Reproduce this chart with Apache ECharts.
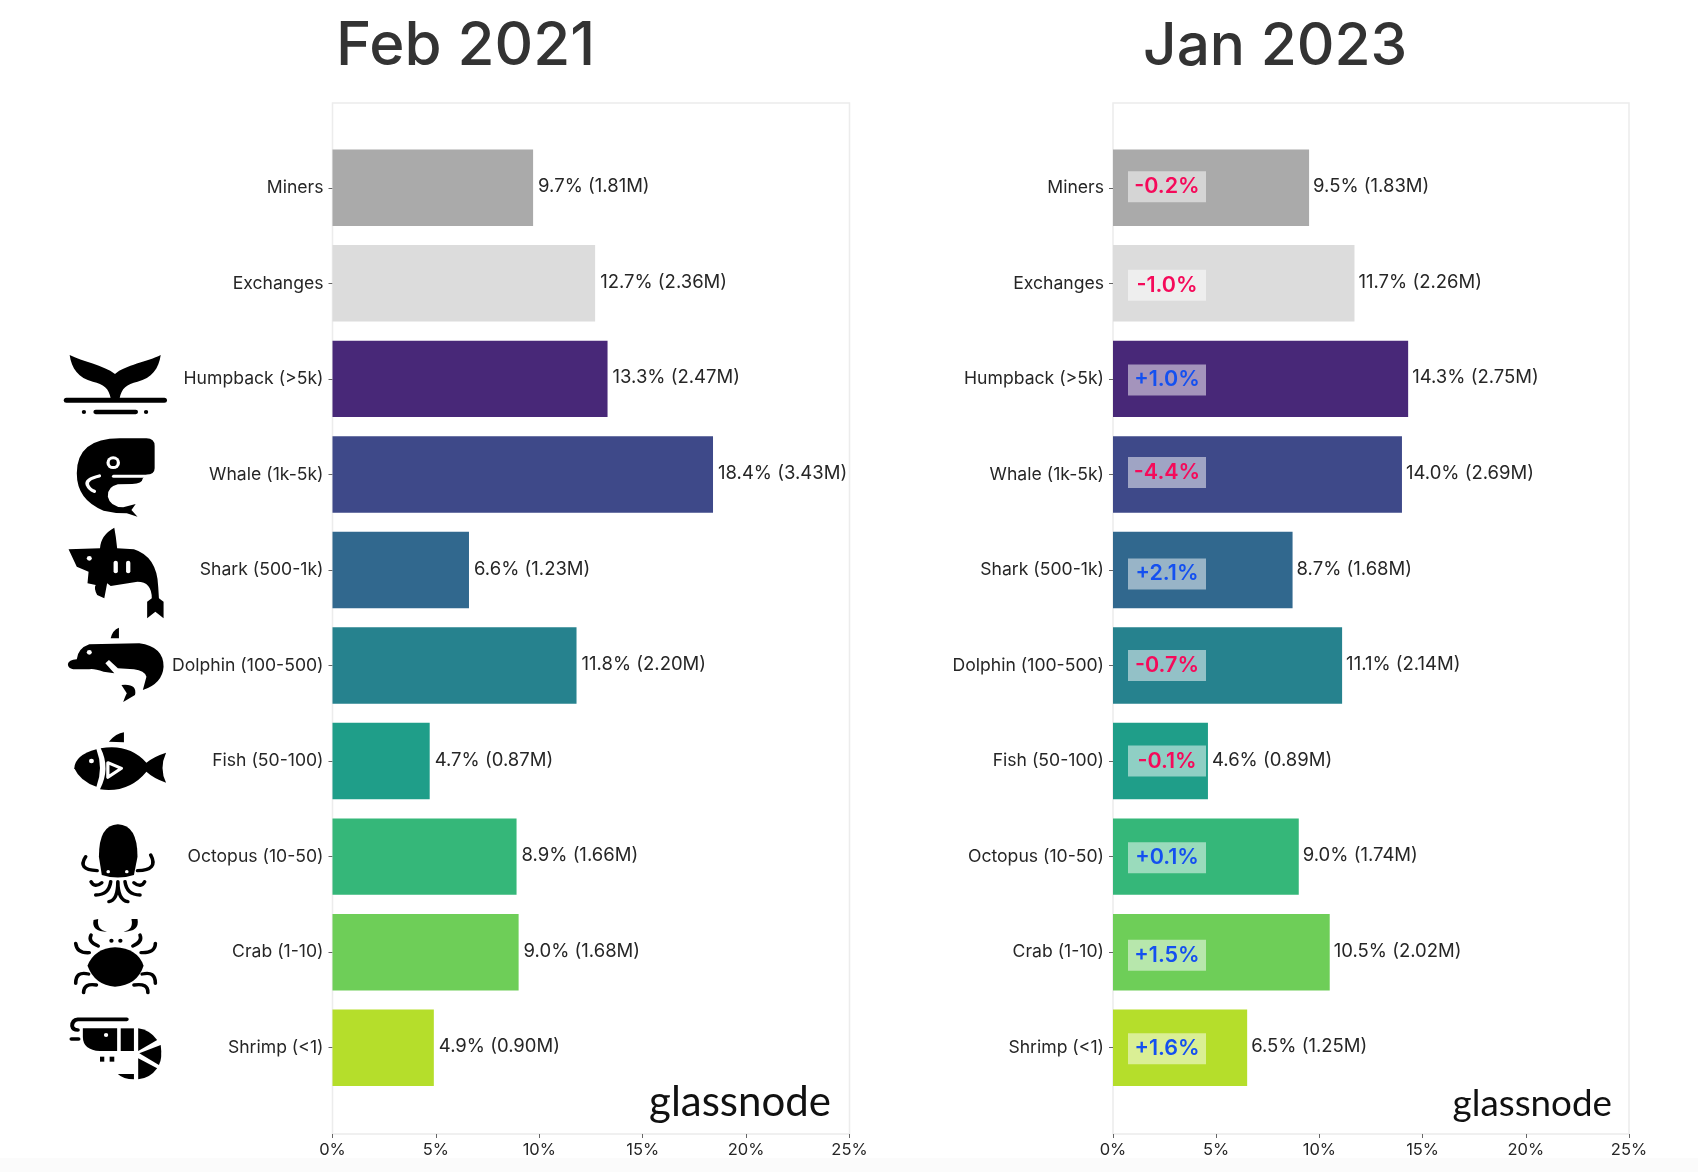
<!DOCTYPE html>
<html>
<head>
<meta charset="utf-8">
<title>Feb 2021 vs Jan 2023</title>
<script src="https://cdn.jsdelivr.net/npm/echarts@6/dist/echarts.min.js"></script>
<style>
  html, body { margin: 0; padding: 0; background: #fff; }
  #chart { width: 1698px; height: 1172px; }
</style>
</head>
<body>
<div id="chart"></div>
<script>
const categories = ['Miners', 'Exchanges', 'Humpback (>5k)', 'Whale (1k-5k)', 'Shark (500-1k)',
  'Dolphin (100-500)', 'Fish (50-100)', 'Octopus (10-50)', 'Crab (1-10)', 'Shrimp (<1)'];
const barColors = ['#aaaaaa', '#dcdcdc', '#482878', '#3e4989', '#31688e',
  '#26828e', '#1f9e89', '#35b779', '#6ece58', '#b5de2b'];
const febShare = [9.7, 12.7, 13.3, 18.4, 6.6, 11.8, 4.7, 8.9, 9.0, 4.9];
const febCoins = ['1.81', '2.36', '2.47', '3.43', '1.23', '2.20', '0.87', '1.66', '1.68', '0.90'];
const janShare = [9.5, 11.7, 14.3, 14.0, 8.7, 11.1, 4.6, 9.0, 10.5, 6.5];
const janCoins = ['1.83', '2.26', '2.75', '2.69', '1.68', '2.14', '0.89', '1.74', '2.02', '1.25'];
const change = ['-0.2', '-1.0', '+1.0', '-4.4', '+2.1', '-0.7', '-0.1', '+0.1', '+1.5', '+1.6'];

const FONT = 'Inter';
const TEXT = '#262626';
const FRAME = '#ececec';
const PANELS = [{ left: 332.5, width: 517 }, { left: 1113, width: 516 }];

// the chips were placed by hand in the original, so they sit a little off centre
const chipNudge = [-1, 2, 1, -2, 4, 0, 0, 1, 3, 1];

const dot = (x, y, r) => `M${x - r} ${y}a${r} ${r} 0 1 0 ${2 * r} 0a${r} ${r} 0 1 0 ${-2 * r} 0Z`;

// icon parts: [kind, path, strokeWidth]. f = black fill, w = white fill, s = black line, x = white line
const iconsUpper = [
  [['f', 'M195 165C230 185 290 195 322 222C350 195 415 185 450 165C445 205 425 235 385 245C355 252 340 265 335 295L310 295C305 265 290 252 260 245C220 235 200 205 195 165Z'],
   ['s', 'M186 301L460 301', 15], ['s', 'M268 336L380 336', 13], ['f', dot(235, 336, 6)], ['f', dot(409, 336, 6)]],
  [['f', 'M335 415L410 415Q433 415 433 438L433 505Q433 524 410 524L400 535Q398 552 370 552L330 553Q300 560 302 590Q308 620 345 622L380 612L368 630L385 650L355 640Q320 640 290 632Q215 600 215 520Q215 415 335 415Z'],
   ['x', 'M318 529L440 529', 9], ['w', dot(317, 488, 19)], ['f', dot(317, 488, 10)],
   ['x', 'M278 528Q238 538 245 555Q250 568 264 574', 10]],
  [['f', 'M320 683Q325 710 328 745L375 748Q440 770 443 860L445 895L458 905L458 955L435 935L412 955L412 905L425 895Q425 845 385 845L310 858L300 850L292 895L272 885Q262 865 268 855L245 850L248 815L215 800L192 748L280 745Q282 705 320 683Z'],
   ['w', dot(250, 775, 7)], ['x', 'M324 788L324 814', 12], ['x', 'M359 788L359 814', 12]],
  [['f', 'M333 983L333 1015L310 1015Q315 990 333 983Z'],
   ['f', 'M250 1033L390 1030Q458 1040 458 1100Q455 1150 400 1170L410 1130Q405 1112 375 1108L330 1105L305 1080L295 1090L320 1120L290 1115Q262 1105 250 1108L205 1108Q190 1105 190 1092Q192 1080 215 1078Q218 1045 250 1033Z'],
   ['w', dot(250, 1057, 7)], ['f', 'M340 1155Q385 1150 378 1185L345 1206Q350 1190 355 1180Z']]
];
const iconsLower = [
  [['f', 'M305 125Q325 100 347 97L347 127Z'], ['f', 'M270 148Q210 165 208 205Q225 245 270 260Q290 205 270 148Z'],
   ['f', 'M282 145Q360 130 410 188Q430 170 465 158Q445 205 465 248Q430 235 410 215Q360 280 280 268Q310 205 282 145Z'],
   ['x', 'M302 188L340 205L302 232Z', 9], ['w', dot(256, 183, 7)]],
  [['f', 'M330 373Q385 375 385 470L375 525Q330 540 285 525L277 470Q277 375 330 373Z'],
   ['w', dot(303, 515, 5)], ['w', dot(355, 515, 5)],
   ['s', 'M240 470Q215 510 272 512', 10], ['s', 'M422 465Q445 510 385 512', 10],
   ['s', 'M255 545Q265 565 285 548', 10], ['s', 'M405 545Q395 565 375 548', 10],
   ['s', 'M268 585Q305 585 310 545', 10], ['s', 'M392 585Q355 585 350 545', 10],
   ['s', 'M305 605Q330 600 330 545Q330 600 358 605', 10]],
  [['f', 'M245 797Q265 745 322 742Q385 745 402 797Q385 855 322 860Q265 855 245 797Z'],
   ['f', 'M262 660Q255 695 300 695Q270 690 275 657Z'], ['f', 'M385 657Q392 695 345 695Q375 690 368 657Z'],
   ['f', dot(312, 722, 6)], ['f', dot(337, 722, 6)],
   ['s', 'M275 738Q245 725 255 705', 10], ['s', 'M372 738Q400 725 392 705', 10],
   ['s', 'M250 758Q215 760 212 730', 10], ['s', 'M395 758Q435 760 435 730', 10],
   ['s', 'M248 822Q212 812 212 850', 10], ['s', 'M398 822Q435 812 435 850', 10],
   ['s', 'M270 855Q235 848 234 878', 10], ['s', 'M375 855Q415 848 414 878', 10]],
  [['s', 'M355 958L218 958Q202 960 202 978Q204 990 218 990', 11], ['s', 'M200 1017L220 1017', 11],
   ['f', 'M232 985L328 985L328 1053L280 1053Q232 1050 232 1010Z'], ['w', dot(297, 1005, 6)],
   ['f', 'M338 985L375 985L375 1053L338 1053Z'], ['f', 'M387 985Q420 990 440 1020L387 1053Z'],
   ['f', 'M450 1035Q455 1075 445 1095L390 1060Z'], ['f', 'M387 1075L440 1105Q420 1135 387 1138Z'],
   ['f', 'M330 1122L375 1122L375 1138Q345 1138 330 1122Z'],
   ['f', 'M280 1070L292 1070L292 1085L280 1085Z'], ['f', 'M307 1070L320 1070L320 1085L307 1085Z']]
];

// graphic has no plain path element, so each icon part gets registered as its own shape
let shapeCount = 0;
function iconGroup(icons, offsetY) {
  const children = [];
  icons.forEach(parts => parts.forEach(([kind, d, lw]) => {
    const line = kind === 's' || kind === 'x';
    const color = kind === 'f' || kind === 's' ? '#000' : '#fff';
    const name = 'iconPart' + shapeCount++;
    echarts.graphic.registerShape(name, echarts.graphic.extendPath(d, {}));
    children.push({
      type: name,
      style: line
        ? { fill: null, stroke: color, lineWidth: lw, lineCap: 'round', lineJoin: 'round' }
        : { fill: color }
    });
  }));
  return { type: 'group', x: 0, y: offsetY, scaleX: 1 / 2.8, scaleY: 1 / 3, children };
}

function watermark(x, y, size) {
  return {
    type: 'text', x, y,
    style: { text: 'glassnode', fontFamily: 'Lato', fontSize: size, fill: '#111', textAlign: 'right', textVerticalAlign: 'middle' }
  };
}

const bothPanels = fn => PANELS.map(fn);

const option = {
  animation: false,
  backgroundColor: '#fff',
  title: [
    { text: 'Feb 2021', left: 331, top: 12, textStyle: { fontFamily: FONT, fontSize: 60, fontWeight: 500, color: '#333' } },
    { text: 'Jan 2023', left: 1138, top: 13, textStyle: { fontFamily: FONT, fontSize: 58.5, fontWeight: 500, color: '#333' } }
  ],
  // grids 0,1 hold the bars, grids 2,3 are the wider frames with the x ticks
  grid: [
    ...bothPanels(p => ({ left: p.left, width: p.width, top: 140, height: 955.5 })),
    ...bothPanels(p => ({ left: p.left, width: p.width, top: 103, height: 1031, show: true, borderColor: FRAME, borderWidth: 1.5 }))
  ],
  xAxis: [
    ...bothPanels((p, i) => ({ gridIndex: i, type: 'value', min: 0, max: 25, show: false })),
    ...bothPanels((p, i) => ({
      gridIndex: i + 2, type: 'value', min: 0, max: 25, interval: 5,
      splitLine: { show: false },
      axisLine: { show: false },
      axisTick: { show: true, length: 4, lineStyle: { color: '#666' } },
      axisLabel: { formatter: '{value}%', margin: 8, fontFamily: FONT, fontSize: 16.5, color: TEXT }
    }))
  ],
  yAxis: [
    ...bothPanels((p, i) => ({
      gridIndex: i, type: 'category', inverse: true, data: categories,
      axisLine: { show: false },
      axisTick: { show: true, alignWithLabel: true, length: 4, lineStyle: { color: '#666' } },
      axisLabel: { margin: 9, padding: [4, 0, 0, 0], fontFamily: FONT, fontSize: 17.6, color: TEXT }
    })),
    ...bothPanels((p, i) => ({ gridIndex: i + 2, type: 'value', show: false }))
  ],
  series: [
    {
      type: 'bar', xAxisIndex: 0, yAxisIndex: 0, barWidth: '80%',
      data: febShare.map((v, i) => ({ value: v, itemStyle: { color: barColors[i] } })),
      label: {
        show: true, position: 'right', distance: 5, offset: [0, -1],
        fontFamily: FONT, fontSize: 18.5, color: TEXT,
        formatter: p => `${febShare[p.dataIndex].toFixed(1)}% (${febCoins[p.dataIndex]}M)`
      }
    },
    {
      type: 'bar', xAxisIndex: 1, yAxisIndex: 1, barWidth: '80%',
      data: janShare.map((v, i) => ({ value: v, itemStyle: { color: barColors[i] } })),
      label: {
        show: true, position: 'right', distance: 4, offset: [0, -1],
        fontFamily: FONT, fontSize: 18.5, color: TEXT,
        formatter: p => `${janShare[p.dataIndex].toFixed(1)}% (${janCoins[p.dataIndex]}M)`
      }
    },
    {
      // same bars again, invisible, only to carry the change chips
      type: 'bar', xAxisIndex: 1, yAxisIndex: 1, barWidth: '80%', barGap: '-100%',
      itemStyle: { color: 'transparent' },
      data: janShare.map((v, i) => ({
        value: v,
        label: {
          offset: [38, chipNudge[i]],
          color: change[i].startsWith('+') ? '#1450f0' : '#f50a5a'
        }
      })),
      label: {
        show: true, position: 'insideLeft', distance: 16,
        width: 78, height: 31, lineHeight: 31, align: 'center',
        backgroundColor: 'rgba(255,255,255,0.5)',
        fontFamily: FONT, fontSize: 21.5, fontWeight: 600,
        formatter: p => `${change[p.dataIndex]}%`
      }
    }
  ],
  graphic: [
    { type: 'rect', z: -1, shape: { x: 0, y: 1158, width: 1698, height: 14 }, style: { fill: '#fbfbfb' } },
    iconGroup(iconsUpper, 300),
    iconGroup(iconsLower, 700),
    watermark(831, 1102, 42),
    watermark(1612, 1104, 36.8)
  ]
};

const chart = echarts.init(document.getElementById('chart'));
chart.setOption(option);
</script>
</body>
</html>
